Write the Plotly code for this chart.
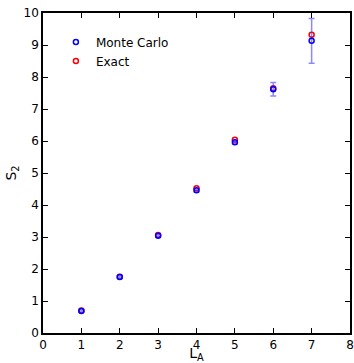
import plotly.graph_objects as go

# Subsystem size L_A and second Renyi entropy S_2
L_A = [1, 2, 3, 4, 5, 6, 7]
s2_monte_carlo = [0.69, 1.75, 3.04, 4.46, 5.96, 7.62, 9.13]
s2_mc_error = [0.03, 0.03, 0.04, 0.05, 0.05, 0.21, 0.70]
s2_exact = [0.70, 1.76, 3.06, 4.52, 6.04, 7.65, 9.32]

x_ticks = [0, 1, 2, 3, 4, 5, 6, 7, 8]
y_ticks = [0, 1, 2, 3, 4, 5, 6, 7, 8, 9, 10]

fig = go.Figure()

fig.add_trace(go.Scatter(
    x=L_A, y=s2_exact, mode="markers", name="Exact",
    marker=dict(symbol="circle-open", size=5, color="#ff0000", line=dict(width=1.5)),
))
fig.add_trace(go.Scatter(
    x=L_A, y=s2_monte_carlo, mode="markers", name="Monte Carlo",
    marker=dict(symbol="circle-open", size=5, color="#0000ff", line=dict(width=1.5)),
    error_y=dict(type="data", array=s2_mc_error, visible=True,
                 color="rgba(60,60,255,0.6)", thickness=1.5, width=3),
))

axis_common = dict(
    showline=True, linecolor="black", linewidth=1.5, mirror="ticks",
    ticks="inside", ticklen=5, tickwidth=1, tickcolor="black",
    showgrid=False, zeroline=False, automargin=False,
    tickfont=dict(family="DejaVu Sans", size=12, color="black"),
)

fig.update_layout(
    width=354, height=363,
    margin=dict(l=43, r=4, t=13, b=30),
    paper_bgcolor="white", plot_bgcolor="white",
    font=dict(family="DejaVu Sans", color="black"),
    xaxis=dict(range=[0, 8], tickvals=x_ticks, **axis_common,
               title=dict(text="L<sub>A</sub>", font=dict(size=14), standoff=3)),
    yaxis=dict(range=[0, 10], tickvals=y_ticks, **axis_common,
               title=dict(text="S<sub>2</sub>", font=dict(size=14), standoff=4)),
    legend=dict(x=0.042, y=0.955, xanchor="left", yanchor="top",
                traceorder="reversed", bgcolor="rgba(0,0,0,0)",
                font=dict(family="DejaVu Sans", size=12, color="black"),
                itemwidth=30, tracegroupgap=0),
    showlegend=True,
)

fig.write_html("out.html")
